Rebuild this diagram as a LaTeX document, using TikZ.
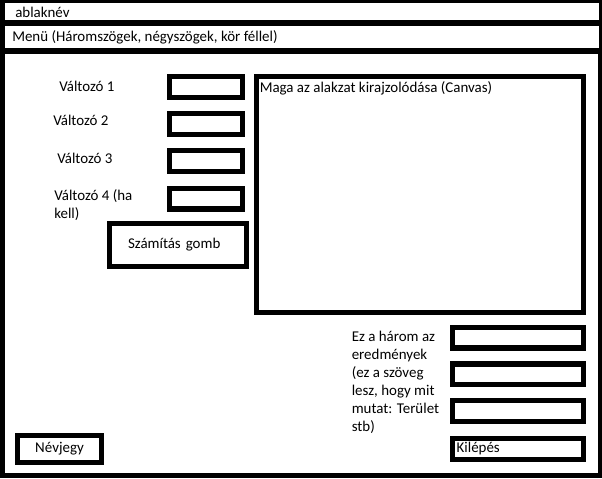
\documentclass[tikz,border=0pt]{standalone}
\usepackage{fontspec}
\setmainfont{Carlito}
\usetikzlibrary{positioning}

\begin{document}
\begin{tikzpicture}[
    x=0.75pt, y=-0.75pt,
    every node/.style={font=\fontsize{11.2pt}{13.5pt}\selectfont},
    field/.style={rectangle, draw, line width=4pt, fill=white, inner sep=0pt, minimum width=54.5pt, minimum height=15.5pt},
    outfield/.style={field, minimum width=98pt},
    lbl/.style={anchor=west, inner sep=0pt, align=left}
]
\useasboundingbox (0,0) rectangle (602,478);

% Window frame
\fill[black] (0,0) rectangle (602,478);
\fill[white] (5,3) rectangle (598.5,20);
\fill[white] (5,26) rectangle (598.5,48);
\fill[white] (5,54) rectangle (598,473);

% Title and menu
\node[lbl] (title) at (15,12) {ablaknév};
\node[lbl] (menu) at (12,37) {Menü (Háromszögek, négyszögek, kör féllel)};

% Inputs
\node[lbl] (var1lbl) at (59,86) {Változó 1};
\node[lbl] (var2lbl) at (53,120) {Változó 2};
\node[lbl] (var3lbl) at (57,158) {Változó 3};
\node[lbl] (var4lbl) at (54,205.5) {Változó 4 (ha\\kell)};
\node[field] (var1) at (206,87) {};
\node[field] (var2) at (206,124) {};
\node[field] (var3) at (206,161) {};
\node[field] (var4) at (206,198.5) {};

% Button
\node[field, minimum width=102.5pt, minimum height=32pt, text width=75pt, inner xsep=13.7pt, align=left] (calc) at (178,245) {Számítás gomb};

% Canvas
\node[field, minimum width=245pt, minimum height=176.75pt] (canvas) at (420,194.5) {};
\node[lbl] (canvastext) at (259.5,88) {Maga az alakzat kirajzolódása (Canvas)};

% Results
\node[lbl] (restext) at (351.5,382) {Ez a három az\\eredmények\\(ez a szöveg\\lesz, hogy mit\\mutat: Terület\\stb)};
\node[outfield] (res1) at (518,337.7) {};
\node[outfield] (res2) at (518,374.3) {};
\node[outfield] (res3) at (518,411) {};

% Bottom buttons
\node[outfield, text width=92pt, inner xsep=3pt, align=left] (exit) at (518,449) {Kilépés};
\node[field, minimum width=62.75pt, minimum height=20pt] (about) at (59.5,449) {Névjegy};

\end{tikzpicture}
\end{document}
